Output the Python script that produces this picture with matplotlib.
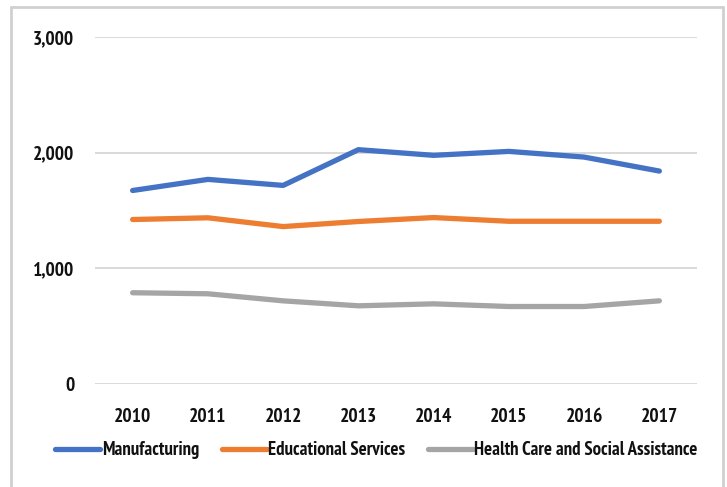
import matplotlib
matplotlib.use("Agg")
import matplotlib.pyplot as plt
from matplotlib.patches import Rectangle
from matplotlib.ticker import FuncFormatter

years = ["2010", "2011", "2012", "2013", "2014", "2015", "2016", "2017"]
manufacturing = [1673, 1769, 1717, 2026, 1977, 2011, 1962, 1841]
educational = [1422, 1437, 1361, 1405, 1439, 1407, 1407, 1407]
health_care = [789, 780, 719, 676, 693, 670, 670, 719]

series_names = ["Manufacturing", "Educational Services", "Health Care and Social Assistance"]
series_colors = ["#4472C4", "#ED7D31", "#A5A5A5"]

plt.rcParams['font.family'] = ['PT Sans Narrow', 'Liberation Sans', 'DejaVu Sans']

fig = plt.figure(figsize=(7.27, 4.87), dpi=100)
ax = fig.add_axes([0.1307, 0.2115, 0.828, 0.7125])

x = range(len(years))
for vals, name, col in zip([manufacturing, educational, health_care], series_names, series_colors):
    ax.plot(x, vals, color=col, lw=3.8, label=name, solid_capstyle='round', solid_joinstyle='round')

ax.set_xlim(-0.5, len(years) - 0.5)
ax.set_ylim(0, 3000)
ax.set_yticks([0, 1000, 2000, 3000])
ax.yaxis.set_major_formatter(FuncFormatter(lambda v, p: f"{int(v):,}"))
ax.set_xticks(list(x))
ax.set_xticklabels(years)
ax.grid(axis='y', color='#D9D9D9', lw=1.4)
ax.set_axisbelow(True)
for s in ax.spines.values():
    s.set_visible(False)
ax.tick_params(length=0, labelsize=14, pad=17, labelcolor='#111111')
ax.tick_params(axis='y', pad=15)
for lab in ax.get_xticklabels() + ax.get_yticklabels():
    lab.set_fontweight('bold')

leg = fig.legend(loc='center', bbox_to_anchor=(0.518, 0.075), ncol=3, frameon=False,
                 fontsize=13.5, handlelength=2.4, handletextpad=0.08, columnspacing=1.2)
for t in leg.get_texts():
    t.set_fontweight('bold')
    t.set_color('#111111')

# thin outer frame around the chart area
fig.patches.append(Rectangle((0.015, -0.05), 0.98, 1.035, transform=fig.transFigure,
                             fill=False, edgecolor='#D0D0D0', lw=2))

fig.savefig("out.png", dpi=100)
